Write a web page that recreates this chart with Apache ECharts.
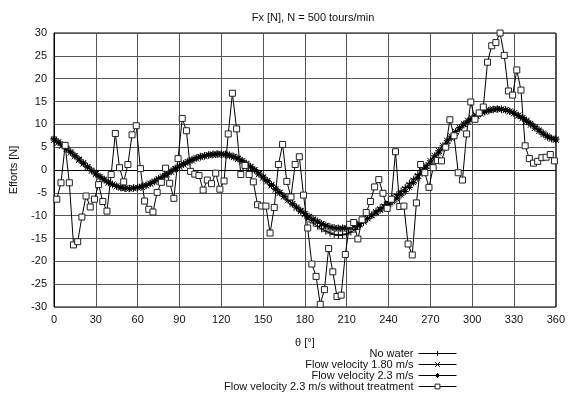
<!DOCTYPE html>
<html>
<head>
<meta charset="utf-8">
<script src="https://cdn.jsdelivr.net/npm/echarts@6/dist/echarts.min.js"></script>
<style>
  html, body { margin: 0; padding: 0; background: #fff; }
  #chart { width: 568px; height: 394px; }
</style>
</head>
<body>
<div id="chart"></div>
<script>
// angles of the smooth curves (deg)
const thetaSmooth = [
  0,3,6,9,12,15,18,21,24,27,30,33,36,39,42,45,48,51,54,57,
  60,63,66,69,72,75,78,81,84,87,90,93,96,99,102,105,108,111,114,117,
  120,123,126,129,132,135,138,141,144,147,150,153,156,159,162,165,168,171,174,177,
  180,183,186,189,192,195,198,201,204,207,210,213,216,219,222,225,228,231,234,237,
  240,243,246,249,252,255,258,261,264,267,270,273,276,279,282,285,288,291,294,297,
  300,303,306,309,312,315,318,321,324,327,330,333,336,339,342,345,348,351,354,357,360
];

const noWater = [
  6.6,6.0,5.3,4.6,3.8,3.0,2.2,1.4,0.6,-0.2,
  -0.9,-1.6,-2.2,-2.8,-3.2,-3.6,-3.9,-4.0,-4.1,-4.0,
  -3.9,-3.7,-3.4,-3.0,-2.6,-2.1,-1.6,-1.0,-0.4,0.2,
  0.7,1.2,1.7,2.1,2.5,2.8,3.0,3.2,3.3,3.4,
  3.4,3.3,3.1,2.8,2.4,1.9,1.3,0.6,-0.1,-0.9,
  -1.7,-2.5,-3.4,-4.3,-5.0,-5.8,-6.6,-7.5,-8.3,-9.1,
  -10.0,-10.8,-11.6,-12.3,-12.9,-13.4,-13.8,-14.1,-14.3,-14.2,
  -14.0,-13.6,-13.0,-12.3,-11.5,-10.7,-9.8,-9.0,-8.3,-7.6,
  -6.9,-6.2,-5.4,-4.6,-3.8,-2.9,-2.0,-1.0,0.0,1.0,
  2.0,3.1,4.2,5.3,6.4,7.4,8.4,9.3,10.1,10.8,
  11.4,11.9,12.4,12.8,13.1,13.3,13.4,13.3,13.1,12.8,
  12.4,11.9,11.3,10.6,9.9,9.2,8.5,7.8,7.2,6.8,
  6.6
];

const flow180 = [
  6.6,6.0,5.3,4.6,3.8,3.0,2.2,1.4,0.6,-0.2,
  -0.9,-1.6,-2.2,-2.8,-3.2,-3.6,-3.9,-4.0,-4.1,-4.0,
  -3.9,-3.7,-3.4,-3.0,-2.6,-2.1,-1.6,-1.0,-0.4,0.2,
  0.7,1.2,1.7,2.1,2.5,2.8,3.0,3.2,3.3,3.4,
  3.4,3.3,3.1,2.8,2.4,1.9,1.3,0.6,-0.1,-0.9,
  -1.7,-2.5,-3.4,-4.3,-5.0,-5.8,-6.6,-7.5,-8.3,-9.0,
  -9.7,-10.3,-10.9,-11.4,-11.9,-12.3,-12.6,-12.8,-12.9,-12.9,
  -12.8,-12.6,-12.3,-11.9,-11.3,-10.6,-9.9,-9.2,-8.6,-8.0,
  -7.3,-6.6,-5.8,-5.0,-4.2,-3.3,-2.3,-1.3,-0.2,0.9,
  2.0,3.1,4.2,5.3,6.4,7.4,8.4,9.3,10.1,10.8,
  11.4,11.9,12.4,12.8,13.1,13.3,13.4,13.3,13.1,12.8,
  12.4,11.9,11.3,10.6,9.9,9.2,8.5,7.8,7.2,6.8,
  6.6
];

const flow23 = [
  6.9,6.2,5.5,4.8,4.0,3.2,2.4,1.6,0.8,0.0,
  -0.7,-1.4,-2.0,-2.6,-3.1,-3.5,-3.8,-4.0,-4.0,-3.9,
  -3.8,-3.6,-3.3,-2.9,-2.4,-1.9,-1.4,-0.8,-0.2,0.4,
  0.9,1.4,1.9,2.3,2.7,3.0,3.2,3.4,3.5,3.6,
  3.6,3.5,3.3,3.0,2.6,2.1,1.5,0.8,0.1,-0.7,
  -1.5,-2.3,-3.2,-4.1,-4.9,-5.7,-6.5,-7.3,-8.1,-8.8,
  -9.5,-10.1,-10.7,-11.2,-11.7,-12.1,-12.4,-12.6,-12.7,-12.7,
  -12.6,-12.4,-12.1,-11.7,-11.2,-10.6,-10.0,-9.4,-8.8,-8.2,
  -7.6,-7.0,-6.3,-5.5,-4.7,-3.8,-2.8,-1.8,-0.7,0.4,
  1.5,2.6,3.7,4.8,5.9,7.0,8.0,9.0,9.9,10.6,
  11.2,11.8,12.3,12.7,13.0,13.2,13.3,13.3,13.2,12.9,
  12.5,12.0,11.5,10.9,10.2,9.5,8.8,8.1,7.5,7.0,
  6.8
];

// measured points without treatment
const thetaRaw = [
  2,5,8,11,14,17,20,23,26,29,32,35,38,41,44,47,50,53,56,59,
  62,65,68,71,74,77,80,83,86,89,92,95,98,101,104,107,110,113,116,119,
  122,125,128,131,134,137,140,143,146,149,152,155,158,161,164,167,170,173,176,179,
  182,185,188,191,194,197,200,203,206,209,212,215,218,221,224,227,230,233,236,239,
  242,245,248,251,254,257,260,263,266,269,272,275,278,281,284,287,290,293,296,299,
  302,305,308,311,314,317,320,323,326,329,332,335,338,341,344,347,350,353,356,359
];

const noTreatment = [
  -6.4,-2.8,5.4,-2.8,-16.4,-15.7,-10.3,-5.7,-8.1,-6.4,
  -3.2,-6.9,-9.0,-1.0,8.0,0.5,-2.6,1.2,7.7,9.7,
  0.3,-6.8,-8.6,-9.2,-4.9,-2.7,0.4,-2.9,-6.2,2.5,
  11.3,8.6,-0.3,-0.9,-1.2,-4.4,-2.2,-3.0,-0.7,-4.2,
  -2.4,7.9,16.8,9.0,-1.0,1.0,-1.0,-2.6,-7.6,-7.9,
  -7.9,-13.8,-8.2,1.2,5.6,-2.5,-5.9,1.2,2.9,-5.5,
  -12.7,-20.6,-23.3,-29.4,-26.2,-17.2,-22.3,-27.7,-27.4,-18.5,
  -11.9,-11.5,-15.1,-10.9,-9.3,-6.9,-3.7,-2.1,-5.1,-8.4,
  -6.4,4.0,-8.0,-7.9,-16.2,-18.6,-7.2,1.2,-0.6,-3.8,
  0.5,2.1,2.0,5.0,11.0,7.5,-0.6,-2.2,7.9,14.9,
  11.1,12.5,13.8,23.6,27.2,27.9,30.0,25.1,17.3,16.4,
  21.9,17.5,5.3,2.5,1.5,1.9,2.7,2.8,3.4,2.0
];

const seriesNames = [
  "No water",
  "Flow velocity 1.80 m/s",
  "Flow velocity 2.3 m/s",
  "Flow velocity 2.3 m/s without treatment"
];

const pair = (xs, ys) => xs.map((x, i) => [x, ys[i]]);

// gnuplot-like point types
const plusSym = "path://M0,5L10,5M5,0L5,10";
const crossSym = "path://M0,0L10,10M10,0L0,10";
const starSym = "path://M0,5L10,5M5,0L5,10M1.5,1.5L8.5,8.5M8.5,1.5L1.5,8.5";

const FONT = "Liberation Sans";

var myChart = echarts.init(document.getElementById("chart"));

const lineSeries = (name, data, symbol, size) => ({
  name: name,
  type: "line",
  data: data,
  symbol: symbol,
  symbolSize: size,
  showAllSymbol: true,
  lineStyle: { color: "#000", width: 1 },
  itemStyle: { color: "#000", borderColor: "#000", borderWidth: 1 },
});

myChart.setOption({
  animation: false,
  backgroundColor: "#fff",
  textStyle: { fontFamily: FONT },
  title: {
    text: "Fx [N], N = 500 tours/min",
    left: 308,
    textAlign: "center",
    top: 7,
    textStyle: { fontSize: 11, fontWeight: "normal", color: "#111", fontFamily: FONT },
  },
  grid: {
    left: 53,
    right: 6,
    top: 33,
    bottom: 87,
    show: true,
    borderColor: "#000",
    borderWidth: 1,
  },
  xAxis: {
    type: "value",
    min: 0,
    max: 360,
    interval: 30,
    name: "θ [°]",
    nameLocation: "middle",
    nameGap: 30,
    nameTextStyle: { fontSize: 11, color: "#111", fontFamily: FONT },
    axisLine: { show: true, lineStyle: { color: "#000" } },
    axisTick: { show: false },
    axisLabel: { fontSize: 11, color: "#111", margin: 7, fontFamily: FONT },
    splitLine: { show: true, lineStyle: { color: "#555", width: 1 } },
  },
  yAxis: {
    type: "value",
    min: -30,
    max: 30,
    interval: 5,
    name: "Efforts [N]",
    nameLocation: "middle",
    nameGap: 35,
    nameTextStyle: { fontSize: 11, color: "#111", fontFamily: FONT },
    axisLine: { show: true, lineStyle: { color: "#000" } },
    axisTick: { show: false },
    axisLabel: { fontSize: 11, color: "#111", margin: 7, fontFamily: FONT },
    splitLine: { show: true, lineStyle: { color: "#555", width: 1 } },
  },
  legend: {
    orient: "vertical",
    right: 111,
    bottom: 2,
    align: "right",
    itemWidth: 38,
    itemHeight: 6,
    itemGap: 0,
    padding: 0,
    lineStyle: { width: 1, color: "#000" },
    itemStyle: { borderWidth: 1 },
    textStyle: { fontSize: 11, color: "#111", lineHeight: 11, fontFamily: FONT },
    data: seriesNames,
  },
  series: [
    lineSeries(seriesNames[0], pair(thetaSmooth, noWater), plusSym, 7),
    lineSeries(seriesNames[1], pair(thetaSmooth, flow180), crossSym, 6),
    lineSeries(seriesNames[2], pair(thetaSmooth, flow23), starSym, 7),
    {
      name: seriesNames[3],
      type: "line",
      data: pair(thetaRaw, noTreatment),
      symbol: "rect",
      symbolSize: 6,
      showAllSymbol: true,
      lineStyle: { color: "#000", width: 1 },
      itemStyle: { color: "#fff", borderColor: "#222", borderWidth: 1 },
    },
  ],
});
</script>
</body>
</html>
